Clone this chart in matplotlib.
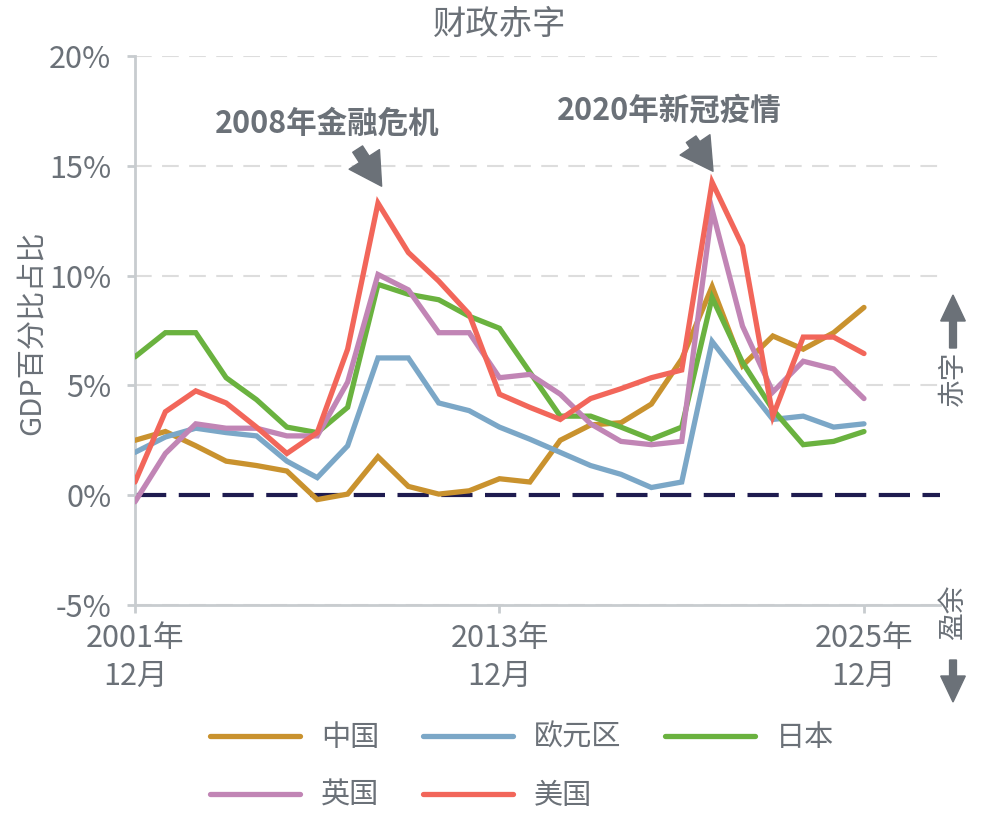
import matplotlib
matplotlib.use("Agg")
import matplotlib.pyplot as plt
from matplotlib.patches import FancyArrow, FancyArrowPatch
import numpy as np

plt.rcParams["font.family"] = ["Noto Sans CJK SC", "DejaVu Sans"]

years = np.arange(2001, 2026)

china = [2.5, 2.9, 2.25, 1.55, 1.35, 1.1, -0.2, 0.05, 1.75, 0.4, 0.05, 0.2, 0.75,
         0.6, 2.5, 3.2, 3.3, 4.15, 6.2, 9.5, 5.9, 7.25, 6.65, 7.4, 8.55]
euro = [1.95, 2.65, 3.05, 2.85, 2.7, 1.55, 0.8, 2.25, 6.25, 6.25, 4.2, 3.85, 3.1,
        2.55, 1.95, 1.35, 0.95, 0.35, 0.6, 7.0, 5.2, 3.45, 3.6, 3.1, 3.25]
japan = [6.3, 7.4, 7.4, 5.35, 4.35, 3.1, 2.85, 4.0, 9.6, 9.15, 8.9, 8.15, 7.6,
         5.6, 3.6, 3.6, 3.1, 2.55, 3.1, 9.0, 6.05, 3.9, 2.3, 2.45, 2.9]
uk = [-0.3, 1.9, 3.25, 3.05, 3.05, 2.7, 2.7, 5.15, 10.05, 9.35, 7.4, 7.4, 5.35,
      5.5, 4.6, 3.25, 2.45, 2.3, 2.45, 13.0, 7.7, 4.7, 6.1, 5.75, 4.4]
us = [0.6, 3.8, 4.75, 4.2, 3.1, 1.9, 2.85, 6.65, 13.3, 11.05, 9.75, 8.25, 4.6,
      4.0, 3.45, 4.4, 4.85, 5.35, 5.7, 14.25, 11.35, 3.6, 7.2, 7.2, 6.45]

series_names = ["中国", "欧元区", "日本", "英国", "美国"]
series_values = [china, euro, japan, uk, us]
colors = ["#C9922E", "#7BA7C7", "#6AB23F", "#C185B5", "#F2665A"]

y_ticks = [-5, 0, 5, 10, 15, 20]
x_ticks = [2001, 2013, 2025]
x_labels = ["2001年\n12月", "2013年\n12月", "2025年\n12月"]

text_color = "#6B7178"
spine_color = "#C8CCCF"

fig = plt.figure(figsize=(9.84, 8.21), dpi=100)
ax = fig.add_axes([0.1372, 0.2631, 0.818, 0.6687])

for y in y_ticks:
    if y == 0:
        continue
    ax.axhline(y, color="#DDDDDD", lw=1.5, ls=(0, (8, 5)), zorder=0)
ax.axhline(0, color="#1E1B4F", lw=3, ls=(0, (7.5, 3)), zorder=1)

lines = []
for name, vals, c in zip(series_names, series_values, colors):
    ln, = ax.plot(years, vals, color=c, lw=3.8, label=name, zorder=3,
                  solid_joinstyle="miter", solid_capstyle="round")
    lines.append(ln)

ax.set_xlim(2001, 2027.5)
ax.set_ylim(-5, 20)
ax.set_yticks(y_ticks)
ax.set_yticklabels([f"{v}%" for v in y_ticks])
ax.set_xticks(x_ticks)
ax.set_xticklabels(x_labels, linespacing=1.3)

for s in ["top", "right"]:
    ax.spines[s].set_visible(False)
for s in ["left", "bottom"]:
    ax.spines[s].set_color(spine_color)
    ax.spines[s].set_linewidth(2)
ax.tick_params(axis="both", colors=spine_color, labelcolor=text_color,
               labelsize=22, width=2, length=6)
ax.tick_params(axis="x", pad=7)
ax.tick_params(axis="y", pad=11)

fig.text(32 / 984, 1 - 333 / 821, "GDP百分比占比", rotation=90, ha="center",
         va="center", fontsize=21, color=text_color)
fig.text(500 / 984, 1 - 24 / 821, "财政赤字", ha="center", va="center",
         fontsize=24, color=text_color)

# annotations with arrows
ax.text(2007.34, 16.9, "2008年金融危机", ha="center", va="center", fontsize=22,
        fontweight="bold", color=text_color)
ax.text(2018.59, 17.5, "2020年新冠疫情", ha="center", va="center", fontsize=22,
        fontweight="bold", color=text_color)
arrow_style = "simple,head_width=1.3,head_length=1.15,tail_width=0.42"
for tail, tip in [((2008.33, 15.76), (2009.12, 14.07)),
                  ((2019.31, 16.21), (2020.03, 14.75))]:
    ax.add_patch(FancyArrowPatch(tail, tip, arrowstyle=arrow_style,
                                 mutation_scale=20, color=text_color,
                                 shrinkA=0, shrinkB=0, zorder=5))

# right side deficit / surplus markers
fig.text(953 / 984, 1 - 378 / 821, "赤字", rotation=90, ha="center", va="center",
         fontsize=20, color=text_color)
fig.text(953 / 984, 1 - 612 / 821, "盈余", rotation=90, ha="center", va="center",
         fontsize=20, color=text_color)
fig.patches.append(FancyArrow(
    953 / 984, 1 - 348 / 821, 0, 53 / 821, width=0.007, head_width=0.025,
    head_length=26 / 821, length_includes_head=True, color=text_color,
    transform=fig.transFigure))
fig.patches.append(FancyArrow(
    953 / 984, 1 - 660 / 821, 0, -42 / 821, width=0.007, head_width=0.025,
    head_length=26 / 821, length_includes_head=True, color=text_color,
    transform=fig.transFigure))

# legend filled row by row
order = [0, 3, 1, 4, 2]
leg = fig.legend(handles=[lines[i] for i in order], loc="upper left",
                 bbox_to_anchor=(210 / 984, 1 - 723 / 821), ncol=3, frameon=False,
                 fontsize=21, handlelength=3.1, handletextpad=0.7,
                 columnspacing=1.5, labelspacing=0.95, borderpad=0,
                 borderaxespad=0)
for t in leg.get_texts():
    t.set_color(text_color)

fig.savefig("out.png", dpi=100)
